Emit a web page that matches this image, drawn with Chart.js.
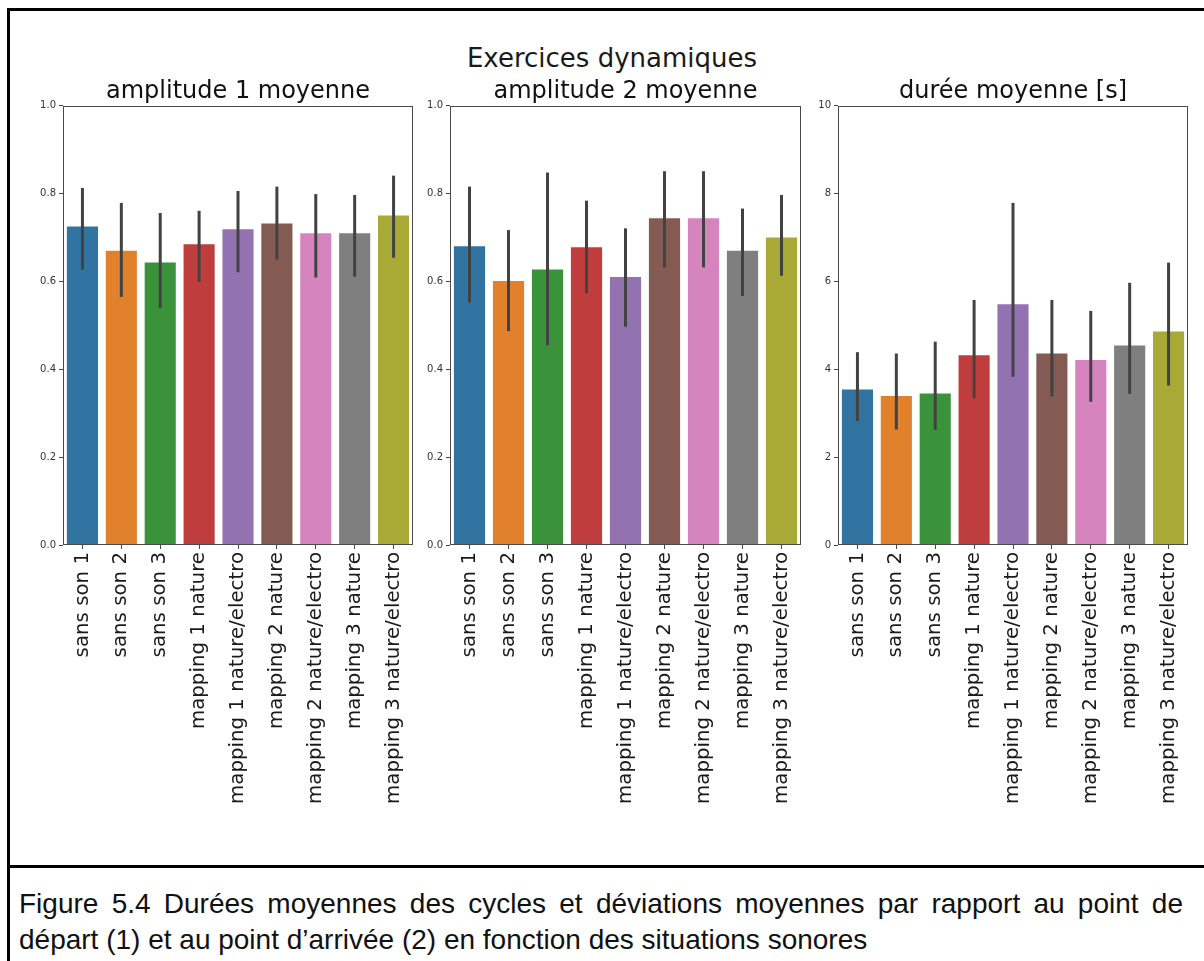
<!DOCTYPE html>
<html>
<head>
<meta charset="utf-8">
<script src="https://cdn.jsdelivr.net/npm/chart.js@4.4.0/dist/chart.umd.min.js"></script>
<style>
  body { margin: 0; background: #fff; width: 1204px; height: 961px; overflow: hidden; position: relative; font-family: "DejaVu Sans", sans-serif; }
  #cadre { position: absolute; left: 7px; top: 8px; width: 1400px; height: 1200px; border-left: 3px solid #000; border-top: 3px solid #000; }
  #separation { position: absolute; left: 7px; top: 865px; width: 1400px; height: 3px; background: #000; }
  #suptitre { position: absolute; left: 0; top: 43px; width: 1224px; text-align: center; font-size: 26px; line-height: 30px; color: #1a1a1a; }
  canvas { position: absolute; top: 77px; }
  #legende { position: absolute; left: 19px; top: 886px; width: 1164px; font-family: "Liberation Sans", Arial, sans-serif; font-size: 28px; line-height: 36px; color: #111; }
  #legende .l1 { text-align: justify; text-align-last: justify; }
</style>
</head>
<body>
<div id="cadre"></div>
<div id="suptitre">Exercices dynamiques</div>
<canvas id="graphAmp1" width="382" height="738" style="left:33px"></canvas>
<canvas id="graphAmp2" width="383" height="738" style="left:420px"></canvas>
<canvas id="graphDuree" width="382" height="738" style="left:808px"></canvas>
<div id="separation"></div>
<div id="legende">
  <div class="l1">Figure 5.4 Durées moyennes des cycles et déviations moyennes par rapport au point de</div>
  <div>départ (1) et au point d’arrivée (2) en fonction des situations sonores</div>
</div>
<script>
// situations sonores (axe x commun aux trois graphiques)
const situations = ['sans son 1', 'sans son 2', 'sans son 3', 'mapping 1 nature', 'mapping 1 nature/electro',
  'mapping 2 nature', 'mapping 2 nature/electro', 'mapping 3 nature', 'mapping 3 nature/electro'];
const couleurs = ['#3274a1', '#e1812c', '#3a923a', '#c03d3e', '#9372b2', '#845b53', '#d684bd', '#7f7f7f', '#a9aa35'];

// moyennes et intervalles de confiance
const amplitude1 = [0.725, 0.670, 0.643, 0.685, 0.719, 0.732, 0.710, 0.710, 0.750];
const amplitude1Bas = [0.627, 0.565, 0.539, 0.599, 0.621, 0.650, 0.609, 0.611, 0.654];
const amplitude1Haut = [0.813, 0.779, 0.756, 0.761, 0.806, 0.816, 0.799, 0.797, 0.841];

const amplitude2 = [0.680, 0.601, 0.627, 0.678, 0.610, 0.744, 0.744, 0.670, 0.700];
const amplitude2Bas = [0.552, 0.487, 0.455, 0.573, 0.497, 0.632, 0.632, 0.567, 0.613];
const amplitude2Haut = [0.816, 0.717, 0.848, 0.784, 0.721, 0.851, 0.851, 0.766, 0.797];

const duree = [3.54, 3.39, 3.45, 4.32, 5.48, 4.36, 4.21, 4.54, 4.86];
const dureeBas = [2.82, 2.63, 2.62, 3.34, 3.83, 3.38, 3.26, 3.44, 3.63];
const dureeHaut = [4.39, 4.36, 4.63, 5.58, 7.79, 5.58, 5.33, 5.97, 6.43];

// graduations de l'axe y
const gradAmplitude = ['0.0', '0.2', '0.4', '0.6', '0.8', '1.0'];
const gradDuree = ['0', '2', '4', '6', '8', '10'];

// barres d'erreur verticales au centre de chaque barre
const barresErreur = {
  id: 'barresErreur',
  afterDatasetsDraw(chart, args, opts) {
    const ctx = chart.ctx, x = chart.scales.x, y = chart.scales.y;
    ctx.save();
    ctx.strokeStyle = '#424242';
    ctx.lineWidth = 3;
    opts.bas.forEach((b, i) => {
      const px = x.getPixelForValue(i);
      ctx.beginPath();
      ctx.moveTo(px, y.getPixelForValue(b));
      ctx.lineTo(px, y.getPixelForValue(opts.haut[i]));
      ctx.stroke();
    });
    ctx.restore();
  }
};

// cadre complet autour de la zone de tracé
const cadreAxes = {
  id: 'cadreAxes',
  afterDraw(chart) {
    const ctx = chart.ctx, a = chart.chartArea;
    ctx.save();
    ctx.strokeStyle = '#4a4a4a';
    ctx.lineWidth = 1;
    ctx.strokeRect(Math.round(a.left) + 0.5, Math.round(a.top) + 0.5, Math.round(a.right - a.left) - 1, Math.round(a.bottom - a.top) - 1);
    ctx.restore();
  }
};

function graphique(id, titre, valeurs, bas, haut, graduations, max) {
  new Chart(document.getElementById(id).getContext('2d'), {
    type: 'bar',
    data: {
      labels: situations,
      datasets: [{
        data: valeurs,
        backgroundColor: couleurs,
        barPercentage: 0.8,
        categoryPercentage: 1.0
      }]
    },
    options: {
      responsive: false,
      animation: false,
      devicePixelRatio: 1,
      layout: { padding: { left: 0, right: 2, top: 0, bottom: 0 } },
      plugins: {
        legend: { display: false },
        tooltip: { enabled: false },
        title: {
          display: true, text: titre, color: '#111', padding: 0, fullSize: false,
          font: { family: 'DejaVu Sans', size: 24, weight: 'normal' }
        },
        barresErreur: { bas: bas, haut: haut }
      },
      scales: {
        x: {
          grid: { offset: false, drawOnChartArea: false, drawTicks: true, tickLength: 4, color: '#444' },
          border: { display: false },
          ticks: {
            autoSkip: false, minRotation: 90, maxRotation: 90, padding: 3, color: '#1a1a1a',
            font: { family: 'DejaVu Sans', size: 19.8 }
          },
          afterFit: s => { s.height = 270; s.paddingLeft = 0; s.paddingRight = 0; }
        },
        y: {
          min: 0, max: max,
          grid: { drawOnChartArea: false, drawTicks: true, tickLength: 4, color: '#444' },
          border: { display: false },
          ticks: {
            stepSize: max / (graduations.length - 1), padding: 3, color: '#333',
            font: { family: 'DejaVu Sans', size: 10 },
            callback: (v, i) => graduations[i]
          },
          afterFit: s => { s.width = 30; s.paddingTop = 0; s.paddingBottom = 0; }
        }
      }
    },
    plugins: [barresErreur, cadreAxes]
  });
}

graphique('graphAmp1', 'amplitude 1 moyenne', amplitude1, amplitude1Bas, amplitude1Haut, gradAmplitude, 1);
graphique('graphAmp2', 'amplitude 2 moyenne', amplitude2, amplitude2Bas, amplitude2Haut, gradAmplitude, 1);
graphique('graphDuree', 'durée moyenne [s]', duree, dureeBas, dureeHaut, gradDuree, 10);
</script>
</body>
</html>
